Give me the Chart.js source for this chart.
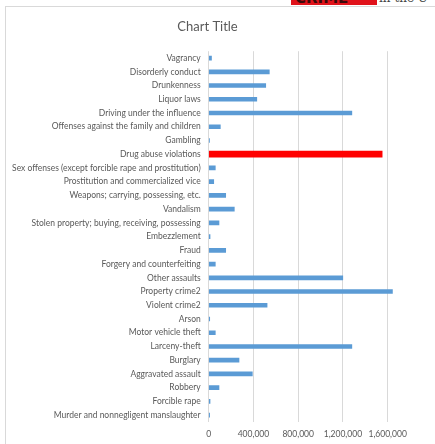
<!DOCTYPE html>
<html>
<head>
<meta charset="utf-8">
<script src="https://cdn.jsdelivr.net/npm/chart.js@4"></script>
<style>
  html, body { margin: 0; padding: 0; background: #fff; overflow: hidden; }
  body { width: 435px; height: 444px; position: relative; }
  #frame { position: absolute; left: 5px; top: 6px; width: 434px; height: 440px;
           border-left: 1px solid #d9d9d9; border-top: 1px solid #d9d9d9; box-sizing: border-box; }
  #box { position: absolute; left: 5px; top: 6px; width: 434px; height: 438px; }
  #scrap { position: absolute; left: 291px; top: 0; width: 86px; height: 5px; background: #e0121a; overflow: hidden; }
  #scrap span { position: absolute; left: 4px; top: -11px; font: bold 15px "DejaVu Sans"; color: #3a0a0a; white-space: nowrap; }
  #scrap2 { position: absolute; left: 379px; top: 0; height: 5px; width: 60px; overflow: hidden; }
  #scrap2 i { position: absolute; top: -9px; font: normal 12px "DejaVu Serif"; color: #444; white-space: nowrap; }
</style>
</head>
<body>
<div id="scrap"><span>CRIME</span></div>
<div id="scrap2"><i>in the U</i></div>
<div id="frame"></div>
<div id="box"><canvas id="chart"></canvas></div>
<script>
const categories = [
  'Vagrancy',
  'Disorderly conduct',
  'Drunkenness',
  'Liquor laws',
  'Driving under the influence',
  'Offenses against the family and children',
  'Gambling',
  'Drug abuse violations',
  'Sex offenses (except forcible rape and prostitution)',
  'Prostitution and commercialized vice',
  'Weapons; carrying, possessing, etc.',
  'Vandalism',
  'Stolen property; buying, receiving, possessing',
  'Embezzlement',
  'Fraud',
  'Forgery and counterfeiting',
  'Other assaults',
  'Property crime2',
  'Violent crime2',
  'Arson',
  'Motor vehicle theft',
  'Larceny-theft',
  'Burglary',
  'Aggravated assault',
  'Robbery',
  'Forcible rape',
  'Murder and nonnegligent manslaughter'
];

const arrests = [
  25000, 542000, 510000, 430000, 1280000, 104000, 7000, 1551000, 59000, 45000,
  152000, 229000, 92000, 12000, 152000, 59000, 1199000, 1643000, 522000, 9000,
  59000, 1280000, 271000, 390000, 92000, 12000, 8000
];

const highlight = 'Drug abuse violations';
const xTicks = [0, 400000, 800000, 1200000, 1600000];

// blue bars for everything except the highlighted row, red bar only for it
const normal = categories.map((c, i) => c === highlight ? null : arrests[i]);
const highlighted = categories.map((c, i) => c === highlight ? arrests[i] : null);

const labelFont = { family: 'Lato', size: 8.5 };

new Chart(document.getElementById('chart').getContext('2d'), {
  type: 'bar',
  data: {
    labels: categories,
    datasets: [
      {
        data: normal,
        backgroundColor: '#5b9bd5',
        barThickness: 4,
        grouped: false
      },
      {
        data: highlighted,
        backgroundColor: '#ff0000',
        barThickness: 6,
        grouped: false
      }
    ]
  },
  options: {
    indexAxis: 'y',
    responsive: true,
    maintainAspectRatio: false,
    animation: false,
    layout: { padding: { left: 0, right: 29, top: 0, bottom: 0 } },
    plugins: {
      legend: { display: false },
      tooltip: { enabled: false },
      title: {
        display: true,
        text: 'Chart Title',
        color: '#595959',
        font: { family: 'Lato', size: 13, weight: 'normal' },
        padding: { top: 13, bottom: 16.6 }
      }
    },
    scales: {
      x: {
        min: 0,
        max: 1800000,
        afterBuildTicks: scale => {
          scale.ticks = xTicks.map(v => ({ value: v }));
        },
        afterFit: scale => { scale.height = 22; },
        border: { display: false },
        grid: { color: '#d9d9d9', lineWidth: 1, drawTicks: false },
        ticks: {
          color: '#595959',
          font: labelFont,
          padding: 7,
          maxRotation: 0,
          callback: v => Number(v).toLocaleString('en-US')
        }
      },
      y: {
        afterFit: scale => { scale.width = 203.7; },
        border: { display: false },
        grid: { display: false, drawTicks: false },
        ticks: {
          color: '#595959',
          font: labelFont,
          padding: 8,
          autoSkip: false
        }
      }
    }
  }
});
</script>
</body>
</html>
